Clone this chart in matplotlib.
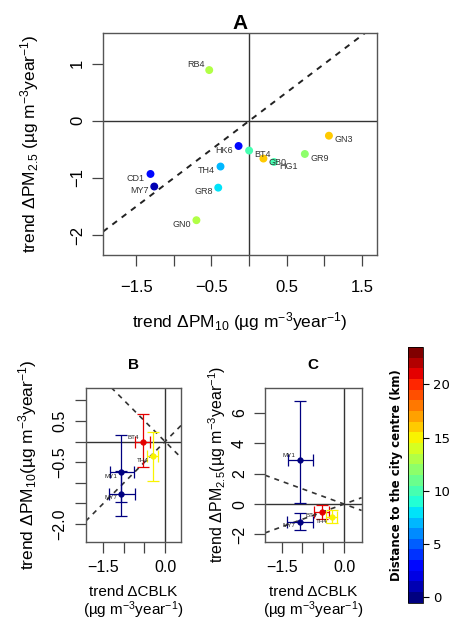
import matplotlib.pyplot as plt
from matplotlib import colors, cm

plt.rcParams['font.family'] = ['Liberation Sans', 'DejaVu Sans']
plt.rcParams['mathtext.default'] = 'regular'

# panel A: site trends of PM10 vs PM2.5
sites_a = ['RB4', 'GN3', 'HK6', 'BT4', 'GB0', 'HG1', 'GR9', 'TH4', 'GR8', 'CD1', 'MY7', 'GN0']
pm10_a = [-0.53, 1.06, -0.14, 0.00, 0.19, 0.33, 0.74, -0.38, -0.41, -1.31, -1.26, -0.70]
pm25_a = [0.89, -0.26, -0.44, -0.52, -0.66, -0.72, -0.58, -0.80, -1.17, -0.93, -1.15, -1.74]
dist_a = [13, 16, 3, 10, 16, 10, 12, 7, 8, 3, 1, 13]

# panels B and C: CBLK trends with confidence limits
sites_bc = ['BT4', 'TH4', 'MY1', 'MY7']
dist_bc = [21, 15, 0, 0]
cblk = [-0.54, -0.30, -1.07, -1.07]
cblk_lo = [-0.72, -0.43, -1.34, -1.37]
cblk_hi = [-0.36, -0.17, -0.75, -0.74]
pm10_b = [0.00, -0.36, -0.75, -1.26]
pm10_b_lo = [-0.61, -0.95, -1.46, -1.81]
pm10_b_hi = [0.66, 0.22, 0.16, -0.71]
pm25_c = [-0.51, -0.84, 2.90, -1.16]
pm25_c_lo = [-1.01, -1.25, 0.09, -1.71]
pm25_c_hi = [-0.07, -0.40, 6.75, -0.62]

cmap = plt.get_cmap('jet', 24)
norm = colors.Normalize(vmin=-0.5, vmax=23.5)

unit = '(\u00b5g m$^{-3}$year$^{-1}$)'
M = '\u2212'


def style(ax, size, xpad=5, ypad=5):
    for s in ax.spines.values():
        s.set_color('#555555')
        s.set_linewidth(1.0)
    ax.tick_params(length=8, width=0.9, color='#444444', labelsize=size)
    ax.tick_params(axis='x', pad=xpad)
    ax.tick_params(axis='y', pad=ypad)
    for lab in ax.get_yticklabels():
        lab.set_rotation(90)
        lab.set_va('center')


fig = plt.figure(figsize=(4.56, 6.22), dpi=100)

# ---- A ----
ax = fig.add_axes([0.226, 0.590, 0.601, 0.357])
ax.set_xlim(-1.94, 1.70)
ax.set_ylim(-2.35, 1.54)
ax.axhline(0, color='#333333', lw=1.0)
ax.axvline(0, color='#333333', lw=1.0)
ax.axline((0, 0), slope=1, color='#222222', lw=1.4, ls=(0, (3, 3)))
ax.scatter(pm10_a, pm25_a, c=[cmap(norm(d)) for d in dist_a], s=22, zorder=3)
right = {'GN3', 'BT4', 'GB0', 'HG1', 'GR9'}
for s, x, y in zip(sites_a, pm10_a, pm25_a):
    if s == 'RB4':
        ax.annotate(s, (x, y), xytext=(-3, 4), textcoords='offset points', ha='right',
                    va='center', fontsize=6.5, color='#333333')
    elif s in right:
        ax.annotate(s, (x, y), xytext=(4, -3), textcoords='offset points', ha='left',
                    va='center', fontsize=6.5, color='#333333')
    else:
        ax.annotate(s, (x, y), xytext=(-4, -3), textcoords='offset points', ha='right',
                    va='center', fontsize=6.5, color='#333333')
ax.set_xticks([-1.5, -1.0, -0.5, 0, 0.5, 1.0, 1.5])
ax.set_xticklabels([M + '1.5', '', M + '0.5', '', '0.5', '', '1.5'])
ax.set_yticks([-2, -1, 0, 1])
ax.set_yticklabels([M + '2', M + '1', '0', '1'])
style(ax, 12, xpad=10, ypad=5)
ax.set_xlabel('trend $\\Delta$PM$_{10}$ ' + unit, fontsize=12.5, labelpad=11)
ax.set_ylabel('trend $\\Delta$PM$_{2.5}$ ' + unit, fontsize=12.5, labelpad=21)
ax.set_title('A', fontsize=15, fontweight='bold', pad=3)


def panel(ax, yv, ylo, yhi):
    ax.axhline(0, color='#333333', lw=1.0)
    ax.axvline(0, color='#333333', lw=1.0)
    ax.axline((0, 0), slope=1, color='#333333', lw=1.2, ls=(0, (3, 3)))
    ax.axline((0, 0), slope=-1, color='#333333', lw=1.2, ls=(0, (3, 3)))
    for i, s in enumerate(sites_bc):
        col = cmap(norm(dist_bc[i]))
        ax.errorbar(cblk[i], yv[i],
                    xerr=[[cblk[i] - cblk_lo[i]], [cblk_hi[i] - cblk[i]]],
                    yerr=[[yv[i] - ylo[i]], [yhi[i] - yv[i]]],
                    fmt='o', ms=3.5, color=col, ecolor=col, elinewidth=0.9,
                    capsize=4, capthick=0.9, zorder=3)


# ---- B ----
axb = fig.add_axes([0.188, 0.129, 0.210, 0.248])
axb.set_xlim(-1.93, 0.40)
axb.set_ylim(-2.43, 1.31)
panel(axb, pm10_b, pm10_b_lo, pm10_b_hi)
for s, x, y in zip(sites_bc, cblk, pm10_b):
    dy = 3 if s == 'BT4' else -3
    axb.annotate(s, (x, y), xytext=(-3, dy), textcoords='offset points', ha='right',
                 va='center', fontsize=4.5, color='#222222')
axb.set_xticks([-1.5, -1.0, -0.5, 0])
axb.set_xticklabels([M + '1.5', '', '', '0.0'])
axb.set_yticks([-2.0, -1.5, -1.0, -0.5, 0, 0.5, 1.0])
axb.set_yticklabels([M + '2.0', '', '', M + '0.5', '', '0.5', ''])
style(axb, 11.5)
axb.set_xlabel('trend \u0394CBLK\n' + unit, fontsize=11, labelpad=7, linespacing=1.05)
axb.set_ylabel('trend $\\Delta$PM$_{10}$' + unit, fontsize=12.5, labelpad=10)
axb.set_title('B', fontsize=11, fontweight='bold', pad=13)

# ---- C ----
axc = fig.add_axes([0.581, 0.129, 0.212, 0.248])
axc.set_xlim(-1.90, 0.42)
axc.set_ylim(-2.48, 7.67)
panel(axc, pm25_c, pm25_c_lo, pm25_c_hi)
for s, x, y in zip(sites_bc, cblk, pm25_c):
    dy = 3 if s == 'MY1' else -3
    axc.annotate(s, (x, y), xytext=(-3, dy), textcoords='offset points', ha='right',
                 va='center', fontsize=4.5, color='#222222')
axc.set_xticks([-1.5, -1.0, -0.5, 0])
axc.set_xticklabels([M + '1.5', '', '', '0.0'])
axc.set_yticks([-2, 0, 2, 4, 6])
axc.set_yticklabels([M + '2', '0', '2', '4', '6'])
style(axc, 11.5)
axc.set_xlabel('trend \u0394CBLK\n' + unit, fontsize=11, labelpad=7, linespacing=1.05)
axc.set_ylabel('trend $\\Delta$PM$_{2.5}$' + unit, fontsize=11.5, labelpad=3)
axc.set_title('C', fontsize=11, fontweight='bold', pad=13)

# ---- colour bar ----
cax = fig.add_axes([0.894, 0.031, 0.033, 0.411])
cb = fig.colorbar(cm.ScalarMappable(norm=norm, cmap=cmap), cax=cax, ticks=[0, 5, 10, 15, 20])
cb.outline.set_linewidth(0.6)
cax.tick_params(labelsize=9.5, length=4, width=0.8)
for lab in cax.get_yticklabels():
    lab.set_family('DejaVu Sans')
cax.yaxis.set_label_position('left')
cb.set_label('Distance to the city centre (km)', fontsize=8.5, fontweight='bold',
             family='DejaVu Sans', labelpad=3)

fig.savefig('out.png', dpi=100)
